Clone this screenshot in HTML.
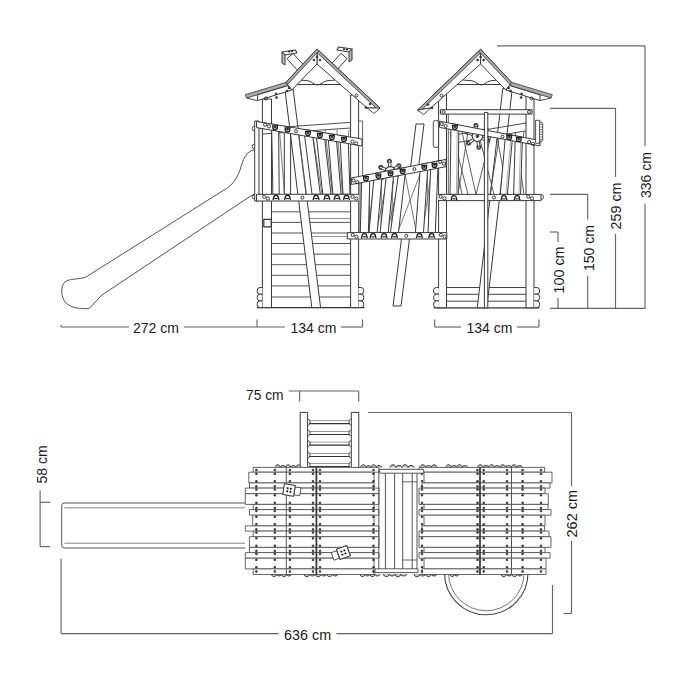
<!DOCTYPE html>
<html><head><meta charset="utf-8"><style>
html,body{margin:0;padding:0;background:#fff;width:680px;height:680px;overflow:hidden}
svg{display:block}
text{font-family:"Liberation Sans",sans-serif;font-size:15.5px;fill:#1a1a1a;stroke:none}
</style></head><body>
<svg width="680" height="680" viewBox="0 0 680 680">
<g stroke="#3a3a3a" stroke-width="1" fill="none" stroke-linejoin="round">
<line x1="446.5" y1="287.5" x2="526" y2="287.5" stroke="#444"/>
<line x1="446.5" y1="294.3" x2="526" y2="294.3" stroke="#444"/>
<line x1="446.5" y1="301.2" x2="526" y2="301.2" stroke="#444"/>
<line x1="433.5" y1="307.8" x2="539.5" y2="307.8" stroke-width="1.3" stroke="#333"/>
<path d="M502.8 88.5 L512.3 88.5 L486.8 307.8 L477.3 307.8Z" fill="#fff"/>
<rect x="438.6" y="94" width="7.9" height="213.8" fill="#fff"/>
<rect x="526" y="96" width="8" height="211.8" fill="#fff"/>
<line x1="448.3" y1="114" x2="448.3" y2="194" stroke-width="0.8"/>
<path d="M438.8 287.5 L436.3 287.5 A2.8 3.35 0 0 0 436.3 294.2 L438.8 294.2" fill="#fff" stroke-width="1"/>
<path d="M438.8 294.2 L436.3 294.2 A2.8 3.35 0 0 0 436.3 300.9 L438.8 300.9" fill="#fff" stroke-width="1"/>
<path d="M438.8 300.9 L436.3 300.9 A2.8 3.35 0 0 0 436.3 307.6 L438.8 307.6" fill="#fff" stroke-width="1"/>
<path d="M534.4 287.5 L536.9 287.5 A2.8 3.35 0 0 1 536.9 294.2 L534.4 294.2" fill="#fff" stroke-width="1"/>
<path d="M534.4 294.2 L536.9 294.2 A2.8 3.35 0 0 1 536.9 300.9 L534.4 300.9" fill="#fff" stroke-width="1"/>
<path d="M534.4 300.9 L536.9 300.9 A2.8 3.35 0 0 1 536.9 307.6 L534.4 307.6" fill="#fff" stroke-width="1"/>
<path d="M455 84.5 L507 84.5" fill="none" stroke-width="1"/>
<path d="M463 80 L472 80.8 C476 81.5 478 85 481 85 C484.5 85 486.5 81.5 490.5 80.8 L498 80" fill="none" stroke-width="1"/>
<line x1="458" y1="134.4" x2="526" y2="123" stroke-width="0.9"/>
<line x1="458" y1="142.4" x2="526" y2="130.9" stroke-width="0.9"/>
<line x1="452" y1="132" x2="468" y2="194.4" stroke-width="0.8"/>
<line x1="468" y1="132" x2="458" y2="194.4" stroke-width="0.8"/>
<line x1="462" y1="132" x2="476" y2="194.4" stroke-width="0.8"/>
<line x1="492" y1="132" x2="476" y2="194.4" stroke-width="0.8"/>
<line x1="478" y1="132" x2="494" y2="194.4" stroke-width="0.8"/>
<line x1="496" y1="132" x2="508" y2="194.4" stroke-width="0.8"/>
<line x1="500" y1="132" x2="490" y2="194.4" stroke-width="0.8"/>
<line x1="515" y1="132" x2="524" y2="194.4" stroke-width="0.8"/>
<line x1="524" y1="132" x2="514" y2="194.4" stroke-width="0.8"/>
<line x1="450" y1="132" x2="462" y2="194.4" stroke-width="0.8"/>
<path d="M451 123.4 L458.9 124.9 L458 194.4 L450 194.4Z" fill="#fff"/>
<line x1="457.3" y1="125.2" x2="456.4" y2="194.4" stroke-width="0.6" stroke="#777"/>
<path d="M505.6 134 L512.7 135.3 L507.4 194.4 L500.3 194.4Z" fill="#fff"/>
<line x1="511.1" y1="135.6" x2="505.8" y2="194.4" stroke-width="0.6" stroke="#777"/>
<path d="M515.3 135.8 L522.4 137.2 L520.6 194.4 L513.6 194.4Z" fill="#fff"/>
<line x1="520.8" y1="137.5" x2="519" y2="194.4" stroke-width="0.6" stroke="#777"/>
<rect x="440.4" y="109.7" width="91.7" height="4.4" fill="#fff"/>
<circle cx="443.5" cy="111.9" r="1.5" fill="none" stroke-width="0.9" stroke="#222"/>
<circle cx="529" cy="111.9" r="1.5" fill="none" stroke-width="0.9" stroke="#222"/>
<line x1="477.4" y1="136.3" x2="475.9" y2="125.4" stroke-width="3.4" stroke="#333"/>
<circle cx="475.9" cy="125.4" r="2.1" fill="#333"/>
<line x1="477.4" y1="136.3" x2="486.1" y2="129.5" stroke-width="3.4" stroke="#333"/>
<circle cx="486.1" cy="129.5" r="2.1" fill="#333"/>
<line x1="477.4" y1="136.3" x2="487.6" y2="140.4" stroke-width="3.4" stroke="#333"/>
<circle cx="487.6" cy="140.4" r="2.1" fill="#333"/>
<line x1="477.4" y1="136.3" x2="478.9" y2="147.2" stroke-width="3.4" stroke="#333"/>
<circle cx="478.9" cy="147.2" r="2.1" fill="#333"/>
<line x1="477.4" y1="136.3" x2="468.7" y2="143.1" stroke-width="3.4" stroke="#333"/>
<circle cx="468.7" cy="143.1" r="2.1" fill="#333"/>
<line x1="477.4" y1="136.3" x2="467.2" y2="132.2" stroke-width="3.4" stroke="#333"/>
<circle cx="467.2" cy="132.2" r="2.1" fill="#333"/>
<line x1="477.4" y1="136.3" x2="475.9" y2="125.4" stroke-width="1.6" stroke="#fff"/>
<circle cx="475.9" cy="125.4" r="1.2" fill="#fff"/>
<line x1="477.4" y1="136.3" x2="486.1" y2="129.5" stroke-width="1.6" stroke="#fff"/>
<circle cx="486.1" cy="129.5" r="1.2" fill="#fff"/>
<line x1="477.4" y1="136.3" x2="487.6" y2="140.4" stroke-width="1.6" stroke="#fff"/>
<circle cx="487.6" cy="140.4" r="1.2" fill="#fff"/>
<line x1="477.4" y1="136.3" x2="478.9" y2="147.2" stroke-width="1.6" stroke="#fff"/>
<circle cx="478.9" cy="147.2" r="1.2" fill="#fff"/>
<line x1="477.4" y1="136.3" x2="468.7" y2="143.1" stroke-width="1.6" stroke="#fff"/>
<circle cx="468.7" cy="143.1" r="1.2" fill="#fff"/>
<line x1="477.4" y1="136.3" x2="467.2" y2="132.2" stroke-width="1.6" stroke="#fff"/>
<circle cx="467.2" cy="132.2" r="1.2" fill="#fff"/>
<circle cx="477.4" cy="136.3" r="5.2" fill="#fff" stroke-width="1.1" stroke="#333"/>
<circle cx="477.4" cy="136.3" r="1.3" fill="#333"/>
<path d="M439.5 121.2 L540 140.6 L540 145.9 L439.5 127.4Z" fill="#fff"/>
<rect x="433.3" y="120.3" width="5.3" height="27.3" fill="#fff" stroke-width="0.9" rx="2.5"/>
<rect x="535.6" y="120.3" width="4" height="23" fill="#fff" stroke-width="0.9"/>
<path d="M539.6 122 L541.5 122 L542.7 124 L542.7 140 L541.5 142 L539.6 142" fill="none" stroke-width="0.9"/>
<line x1="539.8" y1="124.5" x2="542.5" y2="124.5" stroke-width="0.6"/>
<line x1="539.8" y1="127" x2="542.5" y2="127" stroke-width="0.6"/>
<line x1="539.8" y1="129.5" x2="542.5" y2="129.5" stroke-width="0.6"/>
<line x1="539.8" y1="132" x2="542.5" y2="132" stroke-width="0.6"/>
<line x1="539.8" y1="134.5" x2="542.5" y2="134.5" stroke-width="0.6"/>
<line x1="539.8" y1="137" x2="542.5" y2="137" stroke-width="0.6"/>
<line x1="539.8" y1="139.5" x2="542.5" y2="139.5" stroke-width="0.6"/>
<rect x="437.7" y="194.4" width="103.3" height="6.2" fill="#fff"/>
<rect x="484.4" y="112.4" width="3.4" height="195.4" fill="#fff"/>
<path d="M451.9 125.3 L457.9 125.3 M452.6 125.3 L452.6 127.1 A2.3 2.3 0 0 0 457.2 127.1 L457.2 125.3" fill="none" stroke-width="1.3" stroke="#1a1a1a"/>
<circle cx="454.9" cy="126.7" r="1" fill="#1a1a1a"/>
<path d="M506.2 135.5 L512.2 135.5 M506.9 135.5 L506.9 137.3 A2.3 2.3 0 0 0 511.5 137.3 L511.5 135.5" fill="none" stroke-width="1.3" stroke="#1a1a1a"/>
<circle cx="509.2" cy="136.9" r="1" fill="#1a1a1a"/>
<path d="M515.8 137.4 L521.8 137.4 M516.5 137.4 L516.5 139.2 A2.3 2.3 0 0 0 521.1 139.2 L521.1 137.4" fill="none" stroke-width="1.3" stroke="#1a1a1a"/>
<circle cx="518.8" cy="138.8" r="1" fill="#1a1a1a"/>
<circle cx="441.8" cy="124.1" r="1.6" fill="none" stroke-width="0.9" stroke="#222"/>
<circle cx="445.6" cy="125.9" r="1.6" fill="none" stroke-width="0.9" stroke="#222"/>
<circle cx="529.1" cy="142.1" r="1.6" fill="none" stroke-width="0.9" stroke="#222"/>
<circle cx="532.9" cy="143.9" r="1.6" fill="none" stroke-width="0.9" stroke="#222"/>
<circle cx="502.4" cy="136.5" r="1.5" fill="none" stroke-width="0.9" stroke="#222"/>
<path d="M451 200.2 L451.7 198.1 A2.3 2.4 0 0 1 456.3 198.1 L457 200.2" fill="none" stroke-width="1.3" stroke="#1a1a1a"/>
<line x1="452.4" y1="198.9" x2="455.6" y2="198.9" stroke-width="1.1" stroke="#1a1a1a"/>
<path d="M500.9 200.2 L501.6 198.1 A2.3 2.4 0 0 1 506.2 198.1 L506.9 200.2" fill="none" stroke-width="1.3" stroke="#1a1a1a"/>
<line x1="502.2" y1="198.9" x2="505.5" y2="198.9" stroke-width="1.1" stroke="#1a1a1a"/>
<path d="M514.1 200.2 L514.8 198.1 A2.3 2.4 0 0 1 519.4 198.1 L520.1 200.2" fill="none" stroke-width="1.3" stroke="#1a1a1a"/>
<line x1="515.5" y1="198.9" x2="518.7" y2="198.9" stroke-width="1.1" stroke="#1a1a1a"/>
<circle cx="440.7" cy="196.6" r="1.6" fill="none" stroke-width="0.9" stroke="#222"/>
<circle cx="444.5" cy="198.4" r="1.6" fill="none" stroke-width="0.9" stroke="#222"/>
<circle cx="528.1" cy="196.6" r="1.6" fill="none" stroke-width="0.9" stroke="#222"/>
<circle cx="531.9" cy="198.4" r="1.6" fill="none" stroke-width="0.9" stroke="#222"/>
<circle cx="494" cy="197.5" r="1.5" fill="none" stroke-width="0.9" stroke="#222"/>
<path d="M541 194.5 A2 2 0 0 1 541 199.5" fill="none" stroke-width="0.9"/>
<path d="M480.6 49.3 L417.7 110 L430.6 108 L480.6 64Z" fill="#fff"/>
<path d="M480.6 49.3 L417.7 110 L419.5 111.9 L482.4 51.2Z" fill="#aaa" stroke-width="0.8" stroke="#333"/>
<path d="M417.7 110 L423.6 114.5 L430.6 108Z" fill="#fff" stroke-width="0.9"/>
<circle cx="441.5" cy="95.5" r="1.5" fill="none" stroke-width="0.9" stroke="#222"/>
<circle cx="428" cy="104.5" r="0.9" fill="#222"/>
<circle cx="432" cy="108" r="0.9" fill="#222"/>
<path d="M480.6 49.3 L511.6 82.4 L505.8 90 L480.6 64Z" fill="#fff"/>
<path d="M480.6 49.3 L511.6 82.4 L509.7 84.2 L478.7 51.1Z" fill="#aaa" stroke-width="0.8" stroke="#333"/>
<path d="M552.3 94.7 L511.6 82.4 L509.6 85.6 L551.1 98Z" fill="#aaa" stroke-width="0.8" stroke="#333"/>
<path d="M540 94.8 L509.6 85.6 L505.8 90 L540 100.6Z" fill="#fff"/>
<line x1="551.1" y1="98" x2="540" y2="100.6" stroke-width="0.9"/>
<circle cx="531.6" cy="98.5" r="1.5" fill="none" stroke-width="0.9" stroke="#222"/>
<circle cx="521.6" cy="93.8" r="0.9" fill="#222"/>
<circle cx="521.1" cy="97.5" r="0.9" fill="#222"/>
<circle cx="508.6" cy="88" r="0.9" fill="#222"/>
<circle cx="510.6" cy="91" r="0.9" fill="#222"/>
<circle cx="480.6" cy="57" r="0.9" fill="#222"/>
<circle cx="477.6" cy="60" r="0.9" fill="#222"/>
<circle cx="483.6" cy="60" r="0.9" fill="#222"/>
<path d="M255.5 150 C246 150 243 160 240 170 C236 181 231 186 224 190 L86 277 C78 280 70 278 65 282 C60 286 61 298 66 303 C71 308 80 309 89 308.6 L102 295 L250.6 196 L255.5 194.7" fill="none" stroke-width="1" stroke="#555"/>
<line x1="271.5" y1="211.8" x2="350.6" y2="211.8" stroke="#555"/>
<line x1="271.5" y1="222.4" x2="350.6" y2="222.4" stroke="#555"/>
<line x1="271.5" y1="233" x2="350.6" y2="233" stroke="#555"/>
<line x1="271.5" y1="243.5" x2="350.6" y2="243.5" stroke="#555"/>
<line x1="271.5" y1="254.1" x2="350.6" y2="254.1" stroke="#555"/>
<line x1="271.5" y1="264.7" x2="350.6" y2="264.7" stroke="#555"/>
<line x1="271.5" y1="275.3" x2="350.6" y2="275.3" stroke="#555"/>
<line x1="271.5" y1="285.9" x2="350.6" y2="285.9" stroke="#555"/>
<line x1="271.5" y1="297" x2="350.6" y2="297" stroke="#555"/>
<line x1="310" y1="218.5" x2="350.6" y2="218.5" stroke-width="0.8" stroke="#777"/>
<line x1="312" y1="236.5" x2="350.6" y2="236.5" stroke-width="0.8" stroke="#777"/>
<line x1="257" y1="307.6" x2="364.5" y2="307.6" stroke-width="1.3" stroke="#333"/>
<path d="M284.6 86.5 L292.8 86.5 L320.6 307.6 L311.8 307.6Z" fill="#fff"/>
<rect x="262.4" y="99" width="9.1" height="208.6" fill="#fff"/>
<rect x="350.6" y="95" width="8" height="212.6" fill="#fff"/>
<rect x="358.6" y="121" width="4" height="80" fill="#fff" stroke-width="0.8"/>
<rect x="263.8" y="219.4" width="7.4" height="7.4" fill="#fff" stroke-width="1.2" stroke="#333"/>
<path d="M262.4 287.5 L259.9 287.5 A2.8 3.35 0 0 0 259.9 294.2 L262.4 294.2" fill="#fff" stroke-width="1"/>
<path d="M262.4 294.2 L259.9 294.2 A2.8 3.35 0 0 0 259.9 300.9 L262.4 300.9" fill="#fff" stroke-width="1"/>
<path d="M262.4 300.9 L259.9 300.9 A2.8 3.35 0 0 0 259.9 307.6 L262.4 307.6" fill="#fff" stroke-width="1"/>
<path d="M358.5 287.5 L361 287.5 A2.8 3.35 0 0 1 361 294.2 L358.5 294.2" fill="#fff" stroke-width="1"/>
<path d="M358.5 294.2 L361 294.2 A2.8 3.35 0 0 1 361 300.9 L358.5 300.9" fill="#fff" stroke-width="1"/>
<path d="M358.5 300.9 L361 300.9 A2.8 3.35 0 0 1 361 307.6 L358.5 307.6" fill="#fff" stroke-width="1"/>
<path d="M291 84.5 L344 84.5" fill="none" stroke-width="1"/>
<path d="M300 80 L308 80.8 C312 81.5 314 85 317.5 85 C321 85 323 81.5 327 80.8 L335 80" fill="none" stroke-width="1"/>
<line x1="262" y1="128.5" x2="350.6" y2="122.4" stroke-width="0.9"/>
<line x1="262" y1="134" x2="350.6" y2="128" stroke-width="0.9"/>
<line x1="279.5" y1="130" x2="284.5" y2="194.5" stroke-width="0.8" stroke="#555"/>
<line x1="298" y1="130" x2="306" y2="194.5" stroke-width="0.8" stroke="#555"/>
<line x1="312" y1="130" x2="322" y2="194.5" stroke-width="0.8" stroke="#555"/>
<line x1="325" y1="130" x2="332.5" y2="194.5" stroke-width="0.8" stroke="#555"/>
<line x1="337" y1="130" x2="342.5" y2="194.5" stroke-width="0.8" stroke="#555"/>
<line x1="349" y1="130" x2="343" y2="194.5" stroke-width="0.8" stroke="#555"/>
<rect x="254.7" y="121" width="4.3" height="80" fill="#fff"/>
<path d="M271.6 124 L278.6 125.2 L279.2 194.3 L272.9 194.3Z" fill="#fff"/>
<path d="M284.3 126.1 L290.6 127.2 L290.6 194.3 L284.3 194.3Z" fill="#fff"/>
<path d="M303.8 129.3 L312 130.7 L320.3 194.3 L312 194.3Z" fill="#fff"/>
<path d="M315.8 131.3 L324 132.7 L331 194.3 L322.8 194.3Z" fill="#fff"/>
<path d="M327.8 133.3 L336 134.7 L341.1 194.3 L332.9 194.3Z" fill="#fff"/>
<path d="M339.9 135.3 L348.1 136.7 L350 194.3 L343 194.3Z" fill="#fff"/>
<path d="M256.5 121.5 L362 139 L362 146 L256.5 127.6Z" fill="#fff"/>
<rect x="256.5" y="194.3" width="105.5" height="6.7" fill="#fff"/>
<path d="M272.1 125.8 L278.1 125.8 M272.8 125.8 L272.8 127.6 A2.3 2.3 0 0 0 277.4 127.6 L277.4 125.8" fill="none" stroke-width="1.3" stroke="#1a1a1a"/>
<circle cx="275.1" cy="127.2" r="1" fill="#1a1a1a"/>
<path d="M284.5 127.9 L290.5 127.9 M285.2 127.9 L285.2 129.7 A2.3 2.3 0 0 0 289.8 129.7 L289.8 127.9" fill="none" stroke-width="1.3" stroke="#1a1a1a"/>
<circle cx="287.5" cy="129.3" r="1" fill="#1a1a1a"/>
<path d="M304.9 131.4 L310.9 131.4 M305.6 131.4 L305.6 133.2 A2.3 2.3 0 0 0 310.2 133.2 L310.2 131.4" fill="none" stroke-width="1.3" stroke="#1a1a1a"/>
<circle cx="307.9" cy="132.8" r="1" fill="#1a1a1a"/>
<path d="M316.9 133.4 L322.9 133.4 M317.6 133.4 L317.6 135.2 A2.3 2.3 0 0 0 322.2 135.2 L322.2 133.4" fill="none" stroke-width="1.3" stroke="#1a1a1a"/>
<circle cx="319.9" cy="134.8" r="1" fill="#1a1a1a"/>
<path d="M328.9 135.5 L334.9 135.5 M329.6 135.5 L329.6 137.3 A2.3 2.3 0 0 0 334.2 137.3 L334.2 135.5" fill="none" stroke-width="1.3" stroke="#1a1a1a"/>
<circle cx="331.9" cy="136.9" r="1" fill="#1a1a1a"/>
<path d="M341 137.5 L347 137.5 M341.7 137.5 L341.7 139.3 A2.3 2.3 0 0 0 346.3 139.3 L346.3 137.5" fill="none" stroke-width="1.3" stroke="#1a1a1a"/>
<circle cx="344" cy="138.9" r="1" fill="#1a1a1a"/>
<circle cx="265.1" cy="124.6" r="1.6" fill="none" stroke-width="0.9" stroke="#222"/>
<circle cx="268.9" cy="126.4" r="1.6" fill="none" stroke-width="0.9" stroke="#222"/>
<circle cx="352.5" cy="141.6" r="1.6" fill="none" stroke-width="0.9" stroke="#222"/>
<circle cx="356.3" cy="143.4" r="1.6" fill="none" stroke-width="0.9" stroke="#222"/>
<circle cx="296" cy="131.3" r="1.5" fill="none" stroke-width="0.9" stroke="#222"/>
<path d="M273 199.9 L273.7 197.8 A2.3 2.4 0 0 1 278.3 197.8 L279 199.9" fill="none" stroke-width="1.3" stroke="#1a1a1a"/>
<line x1="274.4" y1="198.6" x2="277.6" y2="198.6" stroke-width="1.1" stroke="#1a1a1a"/>
<path d="M284.5 199.9 L285.2 197.8 A2.3 2.4 0 0 1 289.8 197.8 L290.5 199.9" fill="none" stroke-width="1.3" stroke="#1a1a1a"/>
<line x1="285.9" y1="198.6" x2="289.1" y2="198.6" stroke-width="1.1" stroke="#1a1a1a"/>
<path d="M313.1 199.9 L313.8 197.8 A2.3 2.4 0 0 1 318.4 197.8 L319.1 199.9" fill="none" stroke-width="1.3" stroke="#1a1a1a"/>
<line x1="314.5" y1="198.6" x2="317.8" y2="198.6" stroke-width="1.1" stroke="#1a1a1a"/>
<path d="M323.9 199.9 L324.6 197.8 A2.3 2.4 0 0 1 329.2 197.8 L329.9 199.9" fill="none" stroke-width="1.3" stroke="#1a1a1a"/>
<line x1="325.3" y1="198.6" x2="328.5" y2="198.6" stroke-width="1.1" stroke="#1a1a1a"/>
<path d="M334 199.9 L334.7 197.8 A2.3 2.4 0 0 1 339.3 197.8 L340 199.9" fill="none" stroke-width="1.3" stroke="#1a1a1a"/>
<line x1="335.4" y1="198.6" x2="338.6" y2="198.6" stroke-width="1.1" stroke="#1a1a1a"/>
<path d="M343.5 199.9 L344.2 197.8 A2.3 2.4 0 0 1 348.8 197.8 L349.5 199.9" fill="none" stroke-width="1.3" stroke="#1a1a1a"/>
<line x1="344.9" y1="198.6" x2="348.1" y2="198.6" stroke-width="1.1" stroke="#1a1a1a"/>
<circle cx="264.1" cy="196.7" r="1.6" fill="none" stroke-width="0.9" stroke="#222"/>
<circle cx="267.9" cy="198.5" r="1.6" fill="none" stroke-width="0.9" stroke="#222"/>
<circle cx="352.5" cy="196.7" r="1.6" fill="none" stroke-width="0.9" stroke="#222"/>
<circle cx="356.3" cy="198.5" r="1.6" fill="none" stroke-width="0.9" stroke="#222"/>
<circle cx="302.4" cy="197.6" r="1.5" fill="none" stroke-width="0.9" stroke="#222"/>
<path d="M254.7 126 A2 2 0 0 0 254.7 131 M254.7 144 A2 2 0 0 0 254.7 149 M254.7 194 A2 2 0 0 0 254.7 199" fill="none" stroke-width="0.9"/>
<path d="M287 58.7 L300.4 73.5 L306.4 68.2 L293 53.3Z" fill="#fff"/>
<path d="M341 53.3 L327.6 68.2 L333.6 73.5 L347 58.7Z" fill="#fff"/>
<path d="M282 52 L295.5 50 L297 53 L285 55Z" fill="#fff" stroke-width="1.1"/>
<path d="M282 52 L285 55 L285 65 L282 63Z" fill="#bbb" stroke-width="1"/>
<line x1="288" y1="51.8" x2="290" y2="51.5" stroke-width="1.4" stroke="#222"/>
<line x1="291" y1="51.5" x2="293" y2="51.2" stroke-width="1.4" stroke="#222"/>
<path d="M352 49 L338.5 47 L337 50 L349 52Z" fill="#fff" stroke-width="1.1"/>
<path d="M352 49 L349 52 L349 62 L352 60Z" fill="#bbb" stroke-width="1"/>
<line x1="343" y1="49" x2="345" y2="49.3" stroke-width="1.4" stroke="#222"/>
<line x1="346" y1="49.4" x2="348" y2="49.7" stroke-width="1.4" stroke="#222"/>
<path d="M317 49 L380 108 L367 108 L317 64Z" fill="#fff"/>
<path d="M317 49 L380 108 L378.2 109.9 L315.2 50.9Z" fill="#aaa" stroke-width="0.8" stroke="#333"/>
<path d="M380 108 L374 113.5 L367 108Z" fill="#fff" stroke-width="0.9"/>
<circle cx="356.5" cy="95.5" r="1.5" fill="none" stroke-width="0.9" stroke="#222"/>
<circle cx="370" cy="104" r="0.9" fill="#222"/>
<circle cx="366" cy="107.5" r="0.9" fill="#222"/>
<path d="M317 49 L286 82.4 L291.8 90 L317 64Z" fill="#fff"/>
<path d="M317 49 L286 82.4 L287.9 84.2 L318.9 50.8Z" fill="#aaa" stroke-width="0.8" stroke="#333"/>
<path d="M245.3 94.7 L286 82.4 L288 85.6 L246.5 98Z" fill="#aaa" stroke-width="0.8" stroke="#333"/>
<path d="M257.6 94.8 L288 85.6 L291.8 90 L257.6 100.6Z" fill="#fff"/>
<line x1="246.5" y1="98" x2="257.6" y2="100.6" stroke-width="0.9"/>
<circle cx="266" cy="98.5" r="1.5" fill="none" stroke-width="0.9" stroke="#222"/>
<circle cx="276" cy="93.8" r="0.9" fill="#222"/>
<circle cx="276.5" cy="97.5" r="0.9" fill="#222"/>
<circle cx="289" cy="88" r="0.9" fill="#222"/>
<circle cx="287" cy="91" r="0.9" fill="#222"/>
<circle cx="317" cy="57" r="0.9" fill="#222"/>
<circle cx="314" cy="60" r="0.9" fill="#222"/>
<circle cx="320" cy="60" r="0.9" fill="#222"/>
<path d="M416 124 L424 124 L401 306 L393 306Z" fill="#fff"/>
<path d="M359 183 L438 167 L438 232.6 L359 232.6Z" fill="#fff" stroke="none"/>
<line x1="360" y1="183" x2="360" y2="232.6" stroke-width="0.9"/>
<line x1="359" y1="183" x2="359" y2="232.6" stroke-width="0.6" stroke="#888"/>
<line x1="368.9" y1="180.3" x2="370" y2="232.6" stroke-width="0.8" stroke="#555"/>
<line x1="375.3" y1="179.5" x2="367.4" y2="232.6" stroke-width="0.8" stroke="#555"/>
<line x1="381.4" y1="177.9" x2="381.1" y2="232.6" stroke-width="0.8" stroke="#555"/>
<line x1="387.8" y1="177" x2="376.2" y2="232.6" stroke-width="0.8" stroke="#555"/>
<line x1="393.1" y1="175.6" x2="391.4" y2="232.6" stroke-width="0.8" stroke="#555"/>
<line x1="400.3" y1="174.6" x2="387.2" y2="232.6" stroke-width="0.8" stroke="#555"/>
<line x1="404.9" y1="173.3" x2="416.4" y2="232.6" stroke-width="0.8" stroke="#555"/>
<line x1="421.6" y1="170.4" x2="397.5" y2="232.6" stroke-width="0.8" stroke="#555"/>
<line x1="427" y1="168.9" x2="429" y2="232.6" stroke-width="0.8" stroke="#555"/>
<line x1="431.9" y1="168.4" x2="422.5" y2="232.6" stroke-width="0.8" stroke="#555"/>
<line x1="390.3" y1="171.8" x2="389.4" y2="161.3" stroke-width="3.4" stroke="#333"/>
<circle cx="389.4" cy="161.3" r="2.1" fill="#333"/>
<line x1="390.3" y1="171.8" x2="398.9" y2="165.8" stroke-width="3.4" stroke="#333"/>
<circle cx="398.9" cy="165.8" r="2.1" fill="#333"/>
<line x1="390.3" y1="171.8" x2="399.8" y2="176.2" stroke-width="3.4" stroke="#333"/>
<circle cx="399.8" cy="176.2" r="2.1" fill="#333"/>
<line x1="390.3" y1="171.8" x2="391.2" y2="182.3" stroke-width="3.4" stroke="#333"/>
<circle cx="391.2" cy="182.3" r="2.1" fill="#333"/>
<line x1="390.3" y1="171.8" x2="381.7" y2="177.8" stroke-width="3.4" stroke="#333"/>
<circle cx="381.7" cy="177.8" r="2.1" fill="#333"/>
<line x1="390.3" y1="171.8" x2="380.8" y2="167.4" stroke-width="3.4" stroke="#333"/>
<circle cx="380.8" cy="167.4" r="2.1" fill="#333"/>
<line x1="390.3" y1="171.8" x2="389.4" y2="161.3" stroke-width="1.6" stroke="#fff"/>
<circle cx="389.4" cy="161.3" r="1.2" fill="#fff"/>
<line x1="390.3" y1="171.8" x2="398.9" y2="165.8" stroke-width="1.6" stroke="#fff"/>
<circle cx="398.9" cy="165.8" r="1.2" fill="#fff"/>
<line x1="390.3" y1="171.8" x2="399.8" y2="176.2" stroke-width="1.6" stroke="#fff"/>
<circle cx="399.8" cy="176.2" r="1.2" fill="#fff"/>
<line x1="390.3" y1="171.8" x2="391.2" y2="182.3" stroke-width="1.6" stroke="#fff"/>
<circle cx="391.2" cy="182.3" r="1.2" fill="#fff"/>
<line x1="390.3" y1="171.8" x2="381.7" y2="177.8" stroke-width="1.6" stroke="#fff"/>
<circle cx="381.7" cy="177.8" r="1.2" fill="#fff"/>
<line x1="390.3" y1="171.8" x2="380.8" y2="167.4" stroke-width="1.6" stroke="#fff"/>
<circle cx="380.8" cy="167.4" r="1.2" fill="#fff"/>
<circle cx="390.3" cy="171.8" r="5.2" fill="#fff" stroke-width="1.1" stroke="#333"/>
<circle cx="390.3" cy="171.8" r="1.3" fill="#333"/>
<path d="M361.8 175.9 L369.9 174.3 L368.4 232.6 L360.3 232.6Z" fill="#fff"/>
<path d="M374.3 173.5 L382.4 171.9 L377.2 232.6 L369 232.6Z" fill="#fff"/>
<path d="M386.8 171 L394.1 169.6 L388.2 232.6 L380.1 232.6Z" fill="#fff"/>
<path d="M399.3 168.6 L405.9 167.3 L398.5 232.6 L390.4 232.6Z" fill="#fff"/>
<path d="M420.6 164.4 L428 162.9 L423.5 232.6 L415.4 232.6Z" fill="#fff"/>
<path d="M430.9 162.4 L438.2 160.9 L435.3 232.6 L428 232.6Z" fill="#fff"/>
<path d="M351.3 178 L446 159.4 L446 166.7 L351.3 184.5Z" fill="#fff"/>
<rect x="347.3" y="232.6" width="99.5" height="6.4" fill="#fff"/>
<path d="M362.9 176.6 L368.9 176.6 M363.6 176.6 L363.6 178.4 A2.3 2.3 0 0 0 368.2 178.4 L368.2 176.6" fill="none" stroke-width="1.3" stroke="#1a1a1a"/>
<circle cx="365.9" cy="178" r="1" fill="#1a1a1a"/>
<path d="M375.4 174.2 L381.4 174.2 M376.1 174.2 L376.1 176 A2.3 2.3 0 0 0 380.7 176 L380.7 174.2" fill="none" stroke-width="1.3" stroke="#1a1a1a"/>
<circle cx="378.4" cy="175.6" r="1" fill="#1a1a1a"/>
<path d="M387.5 171.8 L393.5 171.8 M388.2 171.8 L388.2 173.6 A2.3 2.3 0 0 0 392.8 173.6 L392.8 171.8" fill="none" stroke-width="1.3" stroke="#1a1a1a"/>
<circle cx="390.5" cy="173.2" r="1" fill="#1a1a1a"/>
<path d="M399.6 169.5 L405.6 169.5 M400.3 169.5 L400.3 171.3 A2.3 2.3 0 0 0 404.9 171.3 L404.9 169.5" fill="none" stroke-width="1.3" stroke="#1a1a1a"/>
<circle cx="402.6" cy="170.9" r="1" fill="#1a1a1a"/>
<path d="M421.3 165.3 L427.3 165.3 M422 165.3 L422 167.1 A2.3 2.3 0 0 0 426.6 167.1 L426.6 165.3" fill="none" stroke-width="1.3" stroke="#1a1a1a"/>
<circle cx="424.3" cy="166.7" r="1" fill="#1a1a1a"/>
<path d="M431.5 163.4 L437.5 163.4 M432.2 163.4 L432.2 165.2 A2.3 2.3 0 0 0 436.8 165.2 L436.8 163.4" fill="none" stroke-width="1.3" stroke="#1a1a1a"/>
<circle cx="434.5" cy="164.8" r="1" fill="#1a1a1a"/>
<circle cx="353.5" cy="180.4" r="1.6" fill="none" stroke-width="0.9" stroke="#222"/>
<circle cx="357.3" cy="182.2" r="1.6" fill="none" stroke-width="0.9" stroke="#222"/>
<circle cx="440.1" cy="161.9" r="1.6" fill="none" stroke-width="0.9" stroke="#222"/>
<circle cx="443.9" cy="163.7" r="1.6" fill="none" stroke-width="0.9" stroke="#222"/>
<circle cx="414.4" cy="169.1" r="1.5" fill="none" stroke-width="0.9" stroke="#222"/>
<path d="M361.4 238.1 L362.1 236 A2.3 2.4 0 0 1 366.7 236 L367.4 238.1" fill="none" stroke-width="1.3" stroke="#1a1a1a"/>
<line x1="362.8" y1="236.8" x2="366" y2="236.8" stroke-width="1.1" stroke="#1a1a1a"/>
<path d="M370.1 238.1 L370.8 236 A2.3 2.4 0 0 1 375.4 236 L376.1 238.1" fill="none" stroke-width="1.3" stroke="#1a1a1a"/>
<line x1="371.5" y1="236.8" x2="374.7" y2="236.8" stroke-width="1.1" stroke="#1a1a1a"/>
<path d="M381.1 238.1 L381.8 236 A2.3 2.4 0 0 1 386.4 236 L387.1 238.1" fill="none" stroke-width="1.3" stroke="#1a1a1a"/>
<line x1="382.5" y1="236.8" x2="385.8" y2="236.8" stroke-width="1.1" stroke="#1a1a1a"/>
<path d="M391.4 238.1 L392.1 236 A2.3 2.4 0 0 1 396.8 236 L397.4 238.1" fill="none" stroke-width="1.3" stroke="#1a1a1a"/>
<line x1="392.8" y1="236.8" x2="396.1" y2="236.8" stroke-width="1.1" stroke="#1a1a1a"/>
<path d="M416.4 238.1 L417.1 236 A2.3 2.4 0 0 1 421.8 236 L422.4 238.1" fill="none" stroke-width="1.3" stroke="#1a1a1a"/>
<line x1="417.8" y1="236.8" x2="421.1" y2="236.8" stroke-width="1.1" stroke="#1a1a1a"/>
<path d="M428.6 238.1 L429.3 236 A2.3 2.4 0 0 1 433.9 236 L434.6 238.1" fill="none" stroke-width="1.3" stroke="#1a1a1a"/>
<line x1="430" y1="236.8" x2="433.2" y2="236.8" stroke-width="1.1" stroke="#1a1a1a"/>
<circle cx="352.7" cy="234.9" r="1.6" fill="none" stroke-width="0.9" stroke="#222"/>
<circle cx="356.5" cy="236.7" r="1.6" fill="none" stroke-width="0.9" stroke="#222"/>
<circle cx="440.8" cy="234.9" r="1.6" fill="none" stroke-width="0.9" stroke="#222"/>
<circle cx="444.6" cy="236.7" r="1.6" fill="none" stroke-width="0.9" stroke="#222"/>
<circle cx="406.3" cy="235.8" r="1.5" fill="none" stroke-width="0.9" stroke="#222"/>
</g>
<g stroke="#3c3c3c" stroke-width="1" fill="none" stroke-linejoin="round">
<path d="M245 503 L64 503 Q61.7 503 61.7 506 L61.7 545 Q61.7 548 64 548 L245 548" fill="none" stroke-width="1" stroke="#555"/>
<line x1="64.4" y1="507.8" x2="245" y2="507.8" stroke-width="0.9" stroke="#777"/>
<line x1="64.4" y1="543.2" x2="245" y2="543.2" stroke-width="0.9" stroke="#777"/>
<rect x="300.2" y="412.4" width="7.4" height="55.2" fill="#fff"/>
<rect x="351.3" y="412.4" width="7.5" height="55.2" fill="#fff"/>
<line x1="309" y1="420.6" x2="350" y2="420.6" stroke-width="1" stroke="#999"/>
<line x1="309" y1="423.6" x2="350" y2="423.6" stroke-width="1.1" stroke="#333"/>
<path d="M307.6 418.6 L310 420.6 L310 423.6 L307.6 425.6 M351.3 418.6 L349 420.6 L349 423.6 L351.3 425.6" fill="none" stroke-width="0.9" stroke="#444"/>
<line x1="309" y1="431.5" x2="350" y2="431.5" stroke-width="1" stroke="#999"/>
<line x1="309" y1="434.5" x2="350" y2="434.5" stroke-width="1.1" stroke="#333"/>
<path d="M307.6 429.5 L310 431.5 L310 434.5 L307.6 436.5 M351.3 429.5 L349 431.5 L349 434.5 L351.3 436.5" fill="none" stroke-width="0.9" stroke="#444"/>
<line x1="309" y1="442.1" x2="350" y2="442.1" stroke-width="1" stroke="#999"/>
<line x1="309" y1="445.1" x2="350" y2="445.1" stroke-width="1.1" stroke="#333"/>
<path d="M307.6 440.1 L310 442.1 L310 445.1 L307.6 447.1 M351.3 440.1 L349 442.1 L349 445.1 L351.3 447.1" fill="none" stroke-width="0.9" stroke="#444"/>
<line x1="309" y1="453.5" x2="350" y2="453.5" stroke-width="1" stroke="#999"/>
<line x1="309" y1="456.5" x2="350" y2="456.5" stroke-width="1.1" stroke="#333"/>
<path d="M307.6 451.5 L310 453.5 L310 456.5 L307.6 458.5 M351.3 451.5 L349 453.5 L349 456.5 L351.3 458.5" fill="none" stroke-width="0.9" stroke="#444"/>
<line x1="309" y1="463.5" x2="350" y2="463.5" stroke-width="1" stroke="#999"/>
<line x1="309" y1="466.5" x2="350" y2="466.5" stroke-width="1.1" stroke="#333"/>
<path d="M307.6 461.5 L310 463.5 L310 466.5 L307.6 468.5 M351.3 461.5 L349 463.5 L349 466.5 L351.3 468.5" fill="none" stroke-width="0.9" stroke="#444"/>
<path d="M275.3 467.5 C275.6 463.9 280.2 463.9 280.4 467.5 C280.7 464.9 285.3 464.9 285.6 467.5 C285.8 463.9 290.5 463.9 290.7 467.5 C291 464.9 295.6 464.9 295.9 467.5 C296.1 463.9 300.7 463.9 301 467.5" fill="#c4c4c4" stroke-width="1" stroke="#333"/>
<path d="M360.6 467.5 C360.9 463.9 365.6 463.9 365.9 467.5 C366.1 464.9 370.8 464.9 371.1 467.5 C371.4 463.9 376.1 463.9 376.4 467.5 C376.6 464.9 381.3 464.9 381.6 467.5" fill="#c4c4c4" stroke-width="1" stroke="#333"/>
<path d="M390 467.5 C390.3 463.9 395.7 463.9 396 467.5 C396.3 464.9 401.7 464.9 402 467.5 C402.3 463.9 407.7 463.9 408 467.5 C408.3 464.9 413.7 464.9 414 467.5" fill="#c4c4c4" stroke-width="1" stroke="#333"/>
<path d="M420 467.5 C420.3 463.9 425.4 463.9 425.7 467.5 C426 464.9 431.1 464.9 431.3 467.5 C431.6 463.9 436.7 463.9 437 467.5" fill="#c4c4c4" stroke-width="1" stroke="#333"/>
<path d="M446 467.5 C446.3 463.9 451.1 463.9 451.4 467.5 C451.6 464.9 456.5 464.9 456.8 467.5 C457 463.9 461.9 463.9 462.1 467.5 C462.4 464.9 467.2 464.9 467.5 467.5" fill="#c4c4c4" stroke-width="1" stroke="#333"/>
<path d="M477.5 467.5 C477.8 463.9 482.8 463.9 483.1 467.5 C483.4 464.9 488.5 464.9 488.8 467.5 C489 463.9 494.1 463.9 494.4 467.5 C494.7 464.9 499.7 464.9 500 467.5 C500.3 463.9 505.3 463.9 505.6 467.5 C505.9 464.9 511 464.9 511.2 467.5 C511.5 463.9 516.6 463.9 516.9 467.5 C517.2 464.9 522.2 464.9 522.5 467.5" fill="#c4c4c4" stroke-width="1" stroke="#333"/>
<path d="M271.5 574 C271.8 577.6 276.2 577.6 276.5 574 C276.8 576.6 281.2 576.6 281.5 574 C281.8 577.6 286.2 577.6 286.5 574 C286.8 576.6 291.2 576.6 291.5 574" fill="#c4c4c4" stroke-width="1" stroke="#333"/>
<path d="M304 574 C304.3 577.6 309.4 577.6 309.7 574 C310 576.6 315.1 576.6 315.3 574 C315.6 577.6 320.7 577.6 321 574 C321.3 576.6 326.4 576.6 326.7 574 C327 577.6 332.1 577.6 332.3 574 C332.6 576.6 337.7 576.6 338 574" fill="#c4c4c4" stroke-width="1" stroke="#333"/>
<path d="M360 574 C360.2 577.6 364.8 577.6 365 574 C365.2 576.6 369.8 576.6 370 574 C370.2 577.6 374.8 577.6 375 574 C375.2 576.6 379.8 576.6 380 574" fill="#c4c4c4" stroke-width="1" stroke="#333"/>
<path d="M383.5 574 C383.8 577.6 389 577.6 389.2 574 C389.5 576.6 394.7 576.6 395 574 C395.3 577.6 400.5 577.6 400.8 574 C401 576.6 406.2 576.6 406.5 574" fill="#c4c4c4" stroke-width="1" stroke="#333"/>
<path d="M414 574 C414.3 577.6 419.5 577.6 419.8 574 C420 576.6 425.2 576.6 425.5 574 C425.8 577.6 431 577.6 431.2 574 C431.5 576.6 436.7 576.6 437 574" fill="#c4c4c4" stroke-width="1" stroke="#333"/>
<path d="M450 574 C450.2 577.6 454.3 577.6 454.5 574 C454.7 576.6 458.8 576.6 459 574" fill="#c4c4c4" stroke-width="1" stroke="#333"/>
<path d="M501 574 C501.3 577.6 506.1 577.6 506.4 574 C506.6 576.6 511.5 576.6 511.8 574 C512 577.6 516.9 577.6 517.1 574 C517.4 576.6 522.2 576.6 522.5 574" fill="#c4c4c4" stroke-width="1" stroke="#333"/>
<path d="M444.5 573 A41.75 41.75 0 0 0 528 573" fill="none" stroke-width="1.1" stroke="#444"/>
<path d="M448.5 573 A37.75 37.75 0 0 0 524 573" fill="none" stroke-width="0.9" stroke="#666"/>
<rect x="253.2" y="467.4" width="125.6" height="4.8" fill="#fff" stroke-width="0.9" stroke="#555"/>
<rect x="248.8" y="472.2" width="125.2" height="10.7" fill="#fff" stroke-width="0.9" stroke="#555"/>
<rect x="249.5" y="482.9" width="124.5" height="5.2" fill="#fff" stroke-width="0.9" stroke="#555"/>
<rect x="245.3" y="488.1" width="133.7" height="5.6" fill="#fff" stroke-width="0.9" stroke="#555"/>
<rect x="245.3" y="493.7" width="133.7" height="10.7" fill="#fff" stroke-width="0.9" stroke="#555"/>
<rect x="253.2" y="504.4" width="120.8" height="5.2" fill="#fff" stroke-width="0.9" stroke="#555"/>
<rect x="249.4" y="509.6" width="129.4" height="5.6" fill="#fff" stroke-width="0.9" stroke="#555"/>
<rect x="252.7" y="515.2" width="121.3" height="10.7" fill="#fff" stroke-width="0.9" stroke="#555"/>
<rect x="245.3" y="525.9" width="133.7" height="5.2" fill="#fff" stroke-width="0.9" stroke="#555"/>
<rect x="253.2" y="531.1" width="125.6" height="5.6" fill="#fff" stroke-width="0.9" stroke="#555"/>
<rect x="249.4" y="536.7" width="129.6" height="10.7" fill="#fff" stroke-width="0.9" stroke="#555"/>
<rect x="249.5" y="547.4" width="124.5" height="5.2" fill="#fff" stroke-width="0.9" stroke="#555"/>
<rect x="245.3" y="552.6" width="133.7" height="5.6" fill="#fff" stroke-width="0.9" stroke="#555"/>
<rect x="245.3" y="558.2" width="128.7" height="10.7" fill="#fff" stroke-width="0.9" stroke="#555"/>
<rect x="253.2" y="568.9" width="120.8" height="5.6" fill="#fff" stroke-width="0.9" stroke="#555"/>
<line x1="286.3" y1="467.4" x2="286.3" y2="574.5" stroke-width="1" stroke="#555"/>
<line x1="316.4" y1="467.4" x2="316.4" y2="574.5" stroke-width="1.7" stroke="#333"/>
<rect x="255.7" y="469.3" width="1.4" height="1.4" fill="#333"/>
<rect x="255.7" y="473.1" width="1.4" height="1.4" fill="#333"/>
<rect x="255.7" y="480.6" width="1.4" height="1.4" fill="#333"/>
<rect x="255.7" y="485.7" width="1.4" height="1.4" fill="#333"/>
<rect x="255.7" y="488.8" width="1.4" height="1.4" fill="#333"/>
<rect x="255.7" y="494.6" width="1.4" height="1.4" fill="#333"/>
<rect x="255.7" y="502.1" width="1.4" height="1.4" fill="#333"/>
<rect x="255.7" y="507.2" width="1.4" height="1.4" fill="#333"/>
<rect x="255.7" y="510.3" width="1.4" height="1.4" fill="#333"/>
<rect x="255.7" y="516.1" width="1.4" height="1.4" fill="#333"/>
<rect x="255.7" y="523.6" width="1.4" height="1.4" fill="#333"/>
<rect x="255.7" y="528.7" width="1.4" height="1.4" fill="#333"/>
<rect x="255.7" y="531.8" width="1.4" height="1.4" fill="#333"/>
<rect x="255.7" y="537.6" width="1.4" height="1.4" fill="#333"/>
<rect x="255.7" y="545.1" width="1.4" height="1.4" fill="#333"/>
<rect x="255.7" y="550.2" width="1.4" height="1.4" fill="#333"/>
<rect x="255.7" y="553.3" width="1.4" height="1.4" fill="#333"/>
<rect x="255.7" y="559.1" width="1.4" height="1.4" fill="#333"/>
<rect x="255.7" y="566.6" width="1.4" height="1.4" fill="#333"/>
<rect x="255.7" y="570.8" width="1.4" height="1.4" fill="#333"/>
<rect x="274.1" y="469.3" width="1.4" height="1.4" fill="#333"/>
<rect x="274.1" y="473.1" width="1.4" height="1.4" fill="#333"/>
<rect x="274.1" y="480.6" width="1.4" height="1.4" fill="#333"/>
<rect x="274.1" y="485.7" width="1.4" height="1.4" fill="#333"/>
<rect x="274.1" y="488.8" width="1.4" height="1.4" fill="#333"/>
<rect x="274.1" y="494.6" width="1.4" height="1.4" fill="#333"/>
<rect x="274.1" y="502.1" width="1.4" height="1.4" fill="#333"/>
<rect x="274.1" y="507.2" width="1.4" height="1.4" fill="#333"/>
<rect x="274.1" y="510.3" width="1.4" height="1.4" fill="#333"/>
<rect x="274.1" y="516.1" width="1.4" height="1.4" fill="#333"/>
<rect x="274.1" y="523.6" width="1.4" height="1.4" fill="#333"/>
<rect x="274.1" y="528.7" width="1.4" height="1.4" fill="#333"/>
<rect x="274.1" y="531.8" width="1.4" height="1.4" fill="#333"/>
<rect x="274.1" y="537.6" width="1.4" height="1.4" fill="#333"/>
<rect x="274.1" y="545.1" width="1.4" height="1.4" fill="#333"/>
<rect x="274.1" y="550.2" width="1.4" height="1.4" fill="#333"/>
<rect x="274.1" y="553.3" width="1.4" height="1.4" fill="#333"/>
<rect x="274.1" y="559.1" width="1.4" height="1.4" fill="#333"/>
<rect x="274.1" y="566.6" width="1.4" height="1.4" fill="#333"/>
<rect x="274.1" y="570.8" width="1.4" height="1.4" fill="#333"/>
<rect x="289.2" y="469.3" width="1.4" height="1.4" fill="#333"/>
<rect x="289.2" y="473.1" width="1.4" height="1.4" fill="#333"/>
<rect x="289.2" y="480.6" width="1.4" height="1.4" fill="#333"/>
<rect x="289.2" y="485.7" width="1.4" height="1.4" fill="#333"/>
<rect x="289.2" y="488.8" width="1.4" height="1.4" fill="#333"/>
<rect x="289.2" y="494.6" width="1.4" height="1.4" fill="#333"/>
<rect x="289.2" y="502.1" width="1.4" height="1.4" fill="#333"/>
<rect x="289.2" y="507.2" width="1.4" height="1.4" fill="#333"/>
<rect x="289.2" y="510.3" width="1.4" height="1.4" fill="#333"/>
<rect x="289.2" y="516.1" width="1.4" height="1.4" fill="#333"/>
<rect x="289.2" y="523.6" width="1.4" height="1.4" fill="#333"/>
<rect x="289.2" y="528.7" width="1.4" height="1.4" fill="#333"/>
<rect x="289.2" y="531.8" width="1.4" height="1.4" fill="#333"/>
<rect x="289.2" y="537.6" width="1.4" height="1.4" fill="#333"/>
<rect x="289.2" y="545.1" width="1.4" height="1.4" fill="#333"/>
<rect x="289.2" y="550.2" width="1.4" height="1.4" fill="#333"/>
<rect x="289.2" y="553.3" width="1.4" height="1.4" fill="#333"/>
<rect x="289.2" y="559.1" width="1.4" height="1.4" fill="#333"/>
<rect x="289.2" y="566.6" width="1.4" height="1.4" fill="#333"/>
<rect x="289.2" y="570.8" width="1.4" height="1.4" fill="#333"/>
<rect x="312.3" y="469.3" width="1.4" height="1.4" fill="#333"/>
<rect x="312.3" y="473.1" width="1.4" height="1.4" fill="#333"/>
<rect x="312.3" y="480.6" width="1.4" height="1.4" fill="#333"/>
<rect x="312.3" y="485.7" width="1.4" height="1.4" fill="#333"/>
<rect x="312.3" y="488.8" width="1.4" height="1.4" fill="#333"/>
<rect x="312.3" y="494.6" width="1.4" height="1.4" fill="#333"/>
<rect x="312.3" y="502.1" width="1.4" height="1.4" fill="#333"/>
<rect x="312.3" y="507.2" width="1.4" height="1.4" fill="#333"/>
<rect x="312.3" y="510.3" width="1.4" height="1.4" fill="#333"/>
<rect x="312.3" y="516.1" width="1.4" height="1.4" fill="#333"/>
<rect x="312.3" y="523.6" width="1.4" height="1.4" fill="#333"/>
<rect x="312.3" y="528.7" width="1.4" height="1.4" fill="#333"/>
<rect x="312.3" y="531.8" width="1.4" height="1.4" fill="#333"/>
<rect x="312.3" y="537.6" width="1.4" height="1.4" fill="#333"/>
<rect x="312.3" y="545.1" width="1.4" height="1.4" fill="#333"/>
<rect x="312.3" y="550.2" width="1.4" height="1.4" fill="#333"/>
<rect x="312.3" y="553.3" width="1.4" height="1.4" fill="#333"/>
<rect x="312.3" y="559.1" width="1.4" height="1.4" fill="#333"/>
<rect x="312.3" y="566.6" width="1.4" height="1.4" fill="#333"/>
<rect x="312.3" y="570.8" width="1.4" height="1.4" fill="#333"/>
<rect x="319.3" y="469.3" width="1.4" height="1.4" fill="#333"/>
<rect x="319.3" y="473.1" width="1.4" height="1.4" fill="#333"/>
<rect x="319.3" y="480.6" width="1.4" height="1.4" fill="#333"/>
<rect x="319.3" y="485.7" width="1.4" height="1.4" fill="#333"/>
<rect x="319.3" y="488.8" width="1.4" height="1.4" fill="#333"/>
<rect x="319.3" y="494.6" width="1.4" height="1.4" fill="#333"/>
<rect x="319.3" y="502.1" width="1.4" height="1.4" fill="#333"/>
<rect x="319.3" y="507.2" width="1.4" height="1.4" fill="#333"/>
<rect x="319.3" y="510.3" width="1.4" height="1.4" fill="#333"/>
<rect x="319.3" y="516.1" width="1.4" height="1.4" fill="#333"/>
<rect x="319.3" y="523.6" width="1.4" height="1.4" fill="#333"/>
<rect x="319.3" y="528.7" width="1.4" height="1.4" fill="#333"/>
<rect x="319.3" y="531.8" width="1.4" height="1.4" fill="#333"/>
<rect x="319.3" y="537.6" width="1.4" height="1.4" fill="#333"/>
<rect x="319.3" y="545.1" width="1.4" height="1.4" fill="#333"/>
<rect x="319.3" y="550.2" width="1.4" height="1.4" fill="#333"/>
<rect x="319.3" y="553.3" width="1.4" height="1.4" fill="#333"/>
<rect x="319.3" y="559.1" width="1.4" height="1.4" fill="#333"/>
<rect x="319.3" y="566.6" width="1.4" height="1.4" fill="#333"/>
<rect x="319.3" y="570.8" width="1.4" height="1.4" fill="#333"/>
<rect x="372.8" y="469.3" width="1.4" height="1.4" fill="#333"/>
<rect x="372.8" y="473.1" width="1.4" height="1.4" fill="#333"/>
<rect x="372.8" y="480.6" width="1.4" height="1.4" fill="#333"/>
<rect x="372.8" y="485.7" width="1.4" height="1.4" fill="#333"/>
<rect x="372.8" y="488.8" width="1.4" height="1.4" fill="#333"/>
<rect x="372.8" y="494.6" width="1.4" height="1.4" fill="#333"/>
<rect x="372.8" y="502.1" width="1.4" height="1.4" fill="#333"/>
<rect x="372.8" y="507.2" width="1.4" height="1.4" fill="#333"/>
<rect x="372.8" y="510.3" width="1.4" height="1.4" fill="#333"/>
<rect x="372.8" y="516.1" width="1.4" height="1.4" fill="#333"/>
<rect x="372.8" y="523.6" width="1.4" height="1.4" fill="#333"/>
<rect x="372.8" y="528.7" width="1.4" height="1.4" fill="#333"/>
<rect x="372.8" y="531.8" width="1.4" height="1.4" fill="#333"/>
<rect x="372.8" y="537.6" width="1.4" height="1.4" fill="#333"/>
<rect x="372.8" y="545.1" width="1.4" height="1.4" fill="#333"/>
<rect x="372.8" y="550.2" width="1.4" height="1.4" fill="#333"/>
<rect x="372.8" y="553.3" width="1.4" height="1.4" fill="#333"/>
<rect x="372.8" y="559.1" width="1.4" height="1.4" fill="#333"/>
<rect x="372.8" y="566.6" width="1.4" height="1.4" fill="#333"/>
<rect x="372.8" y="570.8" width="1.4" height="1.4" fill="#333"/>
<rect x="419" y="467.4" width="125.6" height="4.8" fill="#fff" stroke-width="0.9" stroke="#555"/>
<rect x="424" y="472.2" width="128" height="10.7" fill="#fff" stroke-width="0.9" stroke="#555"/>
<rect x="422" y="482.9" width="128" height="5.2" fill="#fff" stroke-width="0.9" stroke="#555"/>
<rect x="419" y="488.1" width="126" height="5.6" fill="#fff" stroke-width="0.9" stroke="#555"/>
<rect x="419" y="493.7" width="129.3" height="10.7" fill="#fff" stroke-width="0.9" stroke="#555"/>
<rect x="424" y="504.4" width="124" height="5.2" fill="#fff" stroke-width="0.9" stroke="#555"/>
<rect x="419" y="509.6" width="132" height="5.6" fill="#fff" stroke-width="0.9" stroke="#555"/>
<rect x="424" y="515.2" width="121" height="10.7" fill="#fff" stroke-width="0.9" stroke="#555"/>
<rect x="422" y="525.9" width="122.6" height="5.2" fill="#fff" stroke-width="0.9" stroke="#555"/>
<rect x="419" y="531.1" width="130" height="5.6" fill="#fff" stroke-width="0.9" stroke="#555"/>
<rect x="419" y="536.7" width="132" height="10.7" fill="#fff" stroke-width="0.9" stroke="#555"/>
<rect x="424" y="547.4" width="121" height="5.2" fill="#fff" stroke-width="0.9" stroke="#555"/>
<rect x="419" y="552.6" width="131" height="5.6" fill="#fff" stroke-width="0.9" stroke="#555"/>
<rect x="424" y="558.2" width="122" height="10.7" fill="#fff" stroke-width="0.9" stroke="#555"/>
<rect x="422" y="568.9" width="124" height="5.6" fill="#fff" stroke-width="0.9" stroke="#555"/>
<line x1="511.5" y1="467.4" x2="511.5" y2="574.5" stroke-width="1" stroke="#555"/>
<line x1="480" y1="467.4" x2="480" y2="574.5" stroke-width="1.7" stroke="#333"/>
<rect x="421.3" y="469.3" width="1.4" height="1.4" fill="#333"/>
<rect x="421.3" y="473.1" width="1.4" height="1.4" fill="#333"/>
<rect x="421.3" y="480.6" width="1.4" height="1.4" fill="#333"/>
<rect x="421.3" y="485.7" width="1.4" height="1.4" fill="#333"/>
<rect x="421.3" y="488.8" width="1.4" height="1.4" fill="#333"/>
<rect x="421.3" y="494.6" width="1.4" height="1.4" fill="#333"/>
<rect x="421.3" y="502.1" width="1.4" height="1.4" fill="#333"/>
<rect x="421.3" y="507.2" width="1.4" height="1.4" fill="#333"/>
<rect x="421.3" y="510.3" width="1.4" height="1.4" fill="#333"/>
<rect x="421.3" y="516.1" width="1.4" height="1.4" fill="#333"/>
<rect x="421.3" y="523.6" width="1.4" height="1.4" fill="#333"/>
<rect x="421.3" y="528.7" width="1.4" height="1.4" fill="#333"/>
<rect x="421.3" y="531.8" width="1.4" height="1.4" fill="#333"/>
<rect x="421.3" y="537.6" width="1.4" height="1.4" fill="#333"/>
<rect x="421.3" y="545.1" width="1.4" height="1.4" fill="#333"/>
<rect x="421.3" y="550.2" width="1.4" height="1.4" fill="#333"/>
<rect x="421.3" y="553.3" width="1.4" height="1.4" fill="#333"/>
<rect x="421.3" y="559.1" width="1.4" height="1.4" fill="#333"/>
<rect x="421.3" y="566.6" width="1.4" height="1.4" fill="#333"/>
<rect x="421.3" y="570.8" width="1.4" height="1.4" fill="#333"/>
<rect x="476.8" y="469.3" width="1.4" height="1.4" fill="#333"/>
<rect x="476.8" y="473.1" width="1.4" height="1.4" fill="#333"/>
<rect x="476.8" y="480.6" width="1.4" height="1.4" fill="#333"/>
<rect x="476.8" y="485.7" width="1.4" height="1.4" fill="#333"/>
<rect x="476.8" y="488.8" width="1.4" height="1.4" fill="#333"/>
<rect x="476.8" y="494.6" width="1.4" height="1.4" fill="#333"/>
<rect x="476.8" y="502.1" width="1.4" height="1.4" fill="#333"/>
<rect x="476.8" y="507.2" width="1.4" height="1.4" fill="#333"/>
<rect x="476.8" y="510.3" width="1.4" height="1.4" fill="#333"/>
<rect x="476.8" y="516.1" width="1.4" height="1.4" fill="#333"/>
<rect x="476.8" y="523.6" width="1.4" height="1.4" fill="#333"/>
<rect x="476.8" y="528.7" width="1.4" height="1.4" fill="#333"/>
<rect x="476.8" y="531.8" width="1.4" height="1.4" fill="#333"/>
<rect x="476.8" y="537.6" width="1.4" height="1.4" fill="#333"/>
<rect x="476.8" y="545.1" width="1.4" height="1.4" fill="#333"/>
<rect x="476.8" y="550.2" width="1.4" height="1.4" fill="#333"/>
<rect x="476.8" y="553.3" width="1.4" height="1.4" fill="#333"/>
<rect x="476.8" y="559.1" width="1.4" height="1.4" fill="#333"/>
<rect x="476.8" y="566.6" width="1.4" height="1.4" fill="#333"/>
<rect x="476.8" y="570.8" width="1.4" height="1.4" fill="#333"/>
<rect x="483" y="469.3" width="1.4" height="1.4" fill="#333"/>
<rect x="483" y="473.1" width="1.4" height="1.4" fill="#333"/>
<rect x="483" y="480.6" width="1.4" height="1.4" fill="#333"/>
<rect x="483" y="485.7" width="1.4" height="1.4" fill="#333"/>
<rect x="483" y="488.8" width="1.4" height="1.4" fill="#333"/>
<rect x="483" y="494.6" width="1.4" height="1.4" fill="#333"/>
<rect x="483" y="502.1" width="1.4" height="1.4" fill="#333"/>
<rect x="483" y="507.2" width="1.4" height="1.4" fill="#333"/>
<rect x="483" y="510.3" width="1.4" height="1.4" fill="#333"/>
<rect x="483" y="516.1" width="1.4" height="1.4" fill="#333"/>
<rect x="483" y="523.6" width="1.4" height="1.4" fill="#333"/>
<rect x="483" y="528.7" width="1.4" height="1.4" fill="#333"/>
<rect x="483" y="531.8" width="1.4" height="1.4" fill="#333"/>
<rect x="483" y="537.6" width="1.4" height="1.4" fill="#333"/>
<rect x="483" y="545.1" width="1.4" height="1.4" fill="#333"/>
<rect x="483" y="550.2" width="1.4" height="1.4" fill="#333"/>
<rect x="483" y="553.3" width="1.4" height="1.4" fill="#333"/>
<rect x="483" y="559.1" width="1.4" height="1.4" fill="#333"/>
<rect x="483" y="566.6" width="1.4" height="1.4" fill="#333"/>
<rect x="483" y="570.8" width="1.4" height="1.4" fill="#333"/>
<rect x="506.3" y="469.3" width="1.4" height="1.4" fill="#333"/>
<rect x="506.3" y="473.1" width="1.4" height="1.4" fill="#333"/>
<rect x="506.3" y="480.6" width="1.4" height="1.4" fill="#333"/>
<rect x="506.3" y="485.7" width="1.4" height="1.4" fill="#333"/>
<rect x="506.3" y="488.8" width="1.4" height="1.4" fill="#333"/>
<rect x="506.3" y="494.6" width="1.4" height="1.4" fill="#333"/>
<rect x="506.3" y="502.1" width="1.4" height="1.4" fill="#333"/>
<rect x="506.3" y="507.2" width="1.4" height="1.4" fill="#333"/>
<rect x="506.3" y="510.3" width="1.4" height="1.4" fill="#333"/>
<rect x="506.3" y="516.1" width="1.4" height="1.4" fill="#333"/>
<rect x="506.3" y="523.6" width="1.4" height="1.4" fill="#333"/>
<rect x="506.3" y="528.7" width="1.4" height="1.4" fill="#333"/>
<rect x="506.3" y="531.8" width="1.4" height="1.4" fill="#333"/>
<rect x="506.3" y="537.6" width="1.4" height="1.4" fill="#333"/>
<rect x="506.3" y="545.1" width="1.4" height="1.4" fill="#333"/>
<rect x="506.3" y="550.2" width="1.4" height="1.4" fill="#333"/>
<rect x="506.3" y="553.3" width="1.4" height="1.4" fill="#333"/>
<rect x="506.3" y="559.1" width="1.4" height="1.4" fill="#333"/>
<rect x="506.3" y="566.6" width="1.4" height="1.4" fill="#333"/>
<rect x="506.3" y="570.8" width="1.4" height="1.4" fill="#333"/>
<rect x="521.9" y="469.3" width="1.4" height="1.4" fill="#333"/>
<rect x="521.9" y="473.1" width="1.4" height="1.4" fill="#333"/>
<rect x="521.9" y="480.6" width="1.4" height="1.4" fill="#333"/>
<rect x="521.9" y="485.7" width="1.4" height="1.4" fill="#333"/>
<rect x="521.9" y="488.8" width="1.4" height="1.4" fill="#333"/>
<rect x="521.9" y="494.6" width="1.4" height="1.4" fill="#333"/>
<rect x="521.9" y="502.1" width="1.4" height="1.4" fill="#333"/>
<rect x="521.9" y="507.2" width="1.4" height="1.4" fill="#333"/>
<rect x="521.9" y="510.3" width="1.4" height="1.4" fill="#333"/>
<rect x="521.9" y="516.1" width="1.4" height="1.4" fill="#333"/>
<rect x="521.9" y="523.6" width="1.4" height="1.4" fill="#333"/>
<rect x="521.9" y="528.7" width="1.4" height="1.4" fill="#333"/>
<rect x="521.9" y="531.8" width="1.4" height="1.4" fill="#333"/>
<rect x="521.9" y="537.6" width="1.4" height="1.4" fill="#333"/>
<rect x="521.9" y="545.1" width="1.4" height="1.4" fill="#333"/>
<rect x="521.9" y="550.2" width="1.4" height="1.4" fill="#333"/>
<rect x="521.9" y="553.3" width="1.4" height="1.4" fill="#333"/>
<rect x="521.9" y="559.1" width="1.4" height="1.4" fill="#333"/>
<rect x="521.9" y="566.6" width="1.4" height="1.4" fill="#333"/>
<rect x="521.9" y="570.8" width="1.4" height="1.4" fill="#333"/>
<rect x="540.3" y="469.3" width="1.4" height="1.4" fill="#333"/>
<rect x="540.3" y="473.1" width="1.4" height="1.4" fill="#333"/>
<rect x="540.3" y="480.6" width="1.4" height="1.4" fill="#333"/>
<rect x="540.3" y="485.7" width="1.4" height="1.4" fill="#333"/>
<rect x="540.3" y="488.8" width="1.4" height="1.4" fill="#333"/>
<rect x="540.3" y="494.6" width="1.4" height="1.4" fill="#333"/>
<rect x="540.3" y="502.1" width="1.4" height="1.4" fill="#333"/>
<rect x="540.3" y="507.2" width="1.4" height="1.4" fill="#333"/>
<rect x="540.3" y="510.3" width="1.4" height="1.4" fill="#333"/>
<rect x="540.3" y="516.1" width="1.4" height="1.4" fill="#333"/>
<rect x="540.3" y="523.6" width="1.4" height="1.4" fill="#333"/>
<rect x="540.3" y="528.7" width="1.4" height="1.4" fill="#333"/>
<rect x="540.3" y="531.8" width="1.4" height="1.4" fill="#333"/>
<rect x="540.3" y="537.6" width="1.4" height="1.4" fill="#333"/>
<rect x="540.3" y="545.1" width="1.4" height="1.4" fill="#333"/>
<rect x="540.3" y="550.2" width="1.4" height="1.4" fill="#333"/>
<rect x="540.3" y="553.3" width="1.4" height="1.4" fill="#333"/>
<rect x="540.3" y="559.1" width="1.4" height="1.4" fill="#333"/>
<rect x="540.3" y="566.6" width="1.4" height="1.4" fill="#333"/>
<rect x="540.3" y="570.8" width="1.4" height="1.4" fill="#333"/>
<line x1="378.8" y1="469.3" x2="378.8" y2="572.6" stroke-width="1" stroke="#555"/>
<line x1="385.4" y1="469.3" x2="385.4" y2="572.6" stroke-width="1" stroke="#555"/>
<line x1="394.6" y1="469.3" x2="394.6" y2="572.6" stroke-width="1" stroke="#555"/>
<line x1="402.7" y1="469.3" x2="402.7" y2="572.6" stroke-width="1" stroke="#555"/>
<line x1="412.2" y1="469.3" x2="412.2" y2="572.6" stroke-width="1" stroke="#555"/>
<line x1="417" y1="469.3" x2="417" y2="572.6" stroke-width="1" stroke="#555"/>
<line x1="402.7" y1="481.8" x2="417" y2="481.8" stroke-width="0.9" stroke="#555"/>
<line x1="402.7" y1="560" x2="417" y2="560" stroke-width="0.9" stroke="#555"/>
<rect x="379.7" y="469.3" width="44" height="3.9" fill="#fff" stroke-width="0.9" stroke="#444"/>
<rect x="375" y="568.8" width="43" height="3.8" fill="#fff" stroke-width="0.9" stroke="#444"/>
<g transform="translate(289,490) rotate(9)"><rect x="5.5" y="-4" width="6" height="8" fill="#fff" stroke-width="0.8"/><rect x="-5.5" y="-5.5" width="11" height="11" fill="#fff" stroke-width="1.1"/><rect x="-2.5" y="-2.5" width="1.8" height="1.8" fill="#111" stroke="none"/><rect x="-2.5" y="0.7" width="1.8" height="1.8" fill="#111" stroke="none"/><rect x="0.7" y="-2.5" width="1.8" height="1.8" fill="#111" stroke="none"/><rect x="0.7" y="0.7" width="1.8" height="1.8" fill="#111" stroke="none"/></g>
<g transform="translate(343.4,552.5) rotate(-20)"><rect x="-11.5" y="-4" width="6" height="8" fill="#fff" stroke-width="0.8"/><rect x="-5.5" y="-5.5" width="11" height="11" fill="#fff" stroke-width="1.1"/><rect x="-2.5" y="-2.5" width="1.8" height="1.8" fill="#111" stroke="none"/><rect x="-2.5" y="0.7" width="1.8" height="1.8" fill="#111" stroke="none"/><rect x="0.7" y="-2.5" width="1.8" height="1.8" fill="#111" stroke="none"/><rect x="0.7" y="0.7" width="1.8" height="1.8" fill="#111" stroke="none"/></g>
</g>
<g stroke="#666" stroke-width="1.15" fill="none">
<line x1="61" y1="327" x2="129" y2="327"/>
<line x1="184" y1="327" x2="285" y2="327"/>
<line x1="61" y1="325" x2="61" y2="327"/>
<line x1="257" y1="319.5" x2="257" y2="327"/>
<line x1="341" y1="327" x2="362.5" y2="327"/>
<line x1="362.5" y1="319.5" x2="362.5" y2="327"/>
<line x1="434.7" y1="319.5" x2="434.7" y2="327"/>
<line x1="434.7" y1="327" x2="461" y2="327"/>
<line x1="517" y1="327" x2="539" y2="327"/>
<line x1="539" y1="319.5" x2="539" y2="327"/>
<line x1="550" y1="308.3" x2="645.5" y2="308.3"/>
<line x1="497" y1="45.9" x2="645" y2="45.9"/>
<line x1="645" y1="45.9" x2="645" y2="146"/>
<line x1="645" y1="203.5" x2="645" y2="308.3"/>
<line x1="550" y1="108.3" x2="615.5" y2="108.3"/>
<line x1="615.5" y1="108.3" x2="615.5" y2="177"/>
<line x1="615.5" y1="234" x2="615.5" y2="308.3"/>
<line x1="550" y1="194.3" x2="587.7" y2="194.3"/>
<line x1="587.7" y1="194.3" x2="587.7" y2="219.4"/>
<line x1="587.7" y1="276" x2="587.7" y2="308.3"/>
<line x1="550" y1="232" x2="558" y2="232"/>
<line x1="558" y1="232" x2="558" y2="242"/>
<line x1="558" y1="298" x2="558" y2="308.3"/>
<line x1="288.7" y1="391" x2="358.7" y2="391"/>
<line x1="299.6" y1="391" x2="299.6" y2="401.4"/>
<line x1="358.7" y1="391" x2="358.7" y2="401.4"/>
<line x1="40.1" y1="490.2" x2="40.1" y2="546.6"/>
<line x1="40.1" y1="502.3" x2="50.2" y2="502.3"/>
<line x1="40.1" y1="546.6" x2="50.2" y2="546.6"/>
<line x1="368" y1="412.5" x2="571.5" y2="412.5"/>
<line x1="571.5" y1="412.5" x2="571.5" y2="486.2"/>
<line x1="571.5" y1="541" x2="571.5" y2="613.5"/>
<line x1="563.5" y1="613.5" x2="571.5" y2="613.5"/>
<line x1="61.1" y1="558.5" x2="61.1" y2="633.6"/>
<line x1="61.1" y1="633.6" x2="278.8" y2="633.6"/>
<line x1="336.5" y1="633.6" x2="552.5" y2="633.6"/>
<line x1="552.5" y1="585" x2="552.5" y2="633.6"/>
</g>
<text x="156" y="333" text-anchor="middle" textLength="46" lengthAdjust="spacingAndGlyphs">272 cm</text>
<text x="313.5" y="333" text-anchor="middle" textLength="46" lengthAdjust="spacingAndGlyphs">134 cm</text>
<text x="489.5" y="333" text-anchor="middle" textLength="46" lengthAdjust="spacingAndGlyphs">134 cm</text>
<text transform="translate(650.8,175) rotate(-90)" text-anchor="middle" textLength="46" lengthAdjust="spacingAndGlyphs">336 cm</text>
<text transform="translate(621.3,206) rotate(-90)" text-anchor="middle" textLength="47" lengthAdjust="spacingAndGlyphs">259 cm</text>
<text transform="translate(593.5,248) rotate(-90)" text-anchor="middle" textLength="46" lengthAdjust="spacingAndGlyphs">150 cm</text>
<text transform="translate(563.8,270) rotate(-90)" text-anchor="middle" textLength="47" lengthAdjust="spacingAndGlyphs">100 cm</text>
<text x="264.8" y="399.7" text-anchor="middle" textLength="37.5" lengthAdjust="spacingAndGlyphs">75 cm</text>
<text transform="translate(46.9,464.4) rotate(-90)" text-anchor="middle" textLength="38" lengthAdjust="spacingAndGlyphs">58 cm</text>
<text transform="translate(577.3,513.7) rotate(-90)" text-anchor="middle" textLength="47.5" lengthAdjust="spacingAndGlyphs">262 cm</text>
<text x="307.6" y="639.5" text-anchor="middle" textLength="47" lengthAdjust="spacingAndGlyphs">636 cm</text>
</svg>
</body></html>
